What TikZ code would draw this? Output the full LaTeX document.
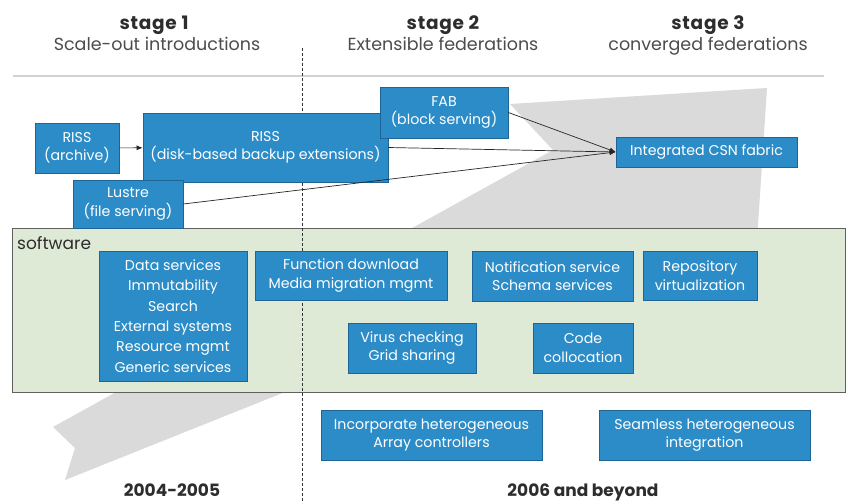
\documentclass[tikz,border=0pt]{standalone}
\usepackage{fontspec}
\setmainfont{Poppins}
\usetikzlibrary{arrows.meta}
\definecolor{hpblue}{RGB}{43,140,200}
\definecolor{hpblueD}{RGB}{30,100,150}
\definecolor{swgreen}{RGB}{222,233,214}
\definecolor{wedgegray}{RGB}{218,218,218}
\definecolor{txtgray}{RGB}{45,45,45}
\begin{document}
\begin{tikzpicture}[x=1pt,y=-1pt,
  bx/.style={rectangle, fill=hpblue, draw=hpblueD, line width=0.7pt, text=white,
    align=center, inner sep=0pt, font=\fontsize{14.2}{18.5}\selectfont},
  conn/.style={draw=black!85, line width=0.7pt},
  tipconn/.style={conn, -{Latex[length=6pt,width=5pt]}},
  stagehd/.style={anchor=base, text=txtgray, font=\fontsize{18.5}{20}\selectfont\bfseries\addfontfeatures{LetterSpace=4}},
  stagesub/.style={anchor=base, text=txtgray!85, font=\fontsize{17.5}{20}\selectfont},
  yearlbl/.style={anchor=base, text=txtgray, font=\fontsize{17}{20}\selectfont\bfseries}
]
\useasboundingbox (0,0) rectangle (848,503);
\fill[white] (0,0) rectangle (848,503);

% gray wedge arrow
\fill[wedgegray] (53,427) -- (553,150) -- (510,104) -- (767,88) -- (757,240)
  -- (420,338) -- (65,480) -- (75,448) -- cycle;

% headers
\node[stagehd] (h1) at (154,30) {stage 1};
\node[stagesub] (t1) at (157,51) {Scale-out introductions};
\node[stagehd] (h2) at (443,30) {stage 2};
\node[stagesub] (t2) at (443,51) {Extensible federations};
\node[stagehd] (h3) at (708,30) {stage 3};
\node[stagesub] (t3) at (708,51) {converged federations};
\coordinate (rl) at (13,76);
\coordinate (rr) at (824,76);
\draw[gray!35, line width=1.3pt] (rl) -- (rr);

% software panel
\node[rectangle, fill=swgreen, draw=gray!75!black, line width=1pt,
  minimum width=833pt, minimum height=164pt, inner sep=0pt] (sw) at (428.5,310) {};
\node[anchor=base west, text=txtgray, font=\fontsize{17}{18}\selectfont, inner sep=0pt]
  (swl) at (17,249) {software};

% dashed divider
\coordinate (dtop) at (302,48);
\coordinate (dbot) at (302,503);
\draw[gray!40!black, line width=0.6pt, dash pattern=on 3pt off 2pt] (dtop) -- (dbot);

% top boxes
\node[bx, minimum width=84pt, minimum height=50pt] (rissa) at (77,148) {RISS\\(archive)};
\node[bx, minimum width=245pt, minimum height=69pt] (rissb) at (265.5,147.5) {RISS\\(disk-based backup extensions)};
\node[bx, minimum width=110pt, minimum height=48pt] (lustre) at (128,204) {Lustre\\(file serving)};
\node[bx, minimum width=128pt, minimum height=51pt] (fab) at (444,112.5) {FAB\\(block serving)};
\node[bx, minimum width=181pt, minimum height=30pt] (csn) at (706.5,152) {Integrated CSN fabric};

% connectors
\draw[tipconn] (rissa) -- (rissb);
\draw[tipconn] (fab.east) -- (csn.west);
\draw[tipconn] (rissb.east) -- (csn.west);
\draw[tipconn] (lustre.east) -- (csn.west);

% software boxes
\node[bx, minimum width=148pt, minimum height=130pt, font=\fontsize{14.2}{20.4}\selectfont] (data) at (173,316)
  {Data services\\Immutability\\Search\\External systems\\Resource mgmt\\Generic services};
\node[bx, minimum width=192pt, minimum height=49pt] (func) at (351,275.5) {Function download\\Media migration mgmt};
\node[bx, minimum width=161pt, minimum height=50pt] (notif) at (552.5,276) {Notification service\\Schema services};
\node[bx, minimum width=114pt, minimum height=49pt] (repo) at (700,275.5) {Repository\\virtualization};
\node[bx, minimum width=128pt, minimum height=50pt] (virus) at (412,348) {Virus checking\\Grid sharing};
\node[bx, minimum width=100pt, minimum height=50pt] (code) at (583,348) {Code\\collocation};

% bottom boxes
\node[bx, minimum width=221pt, minimum height=50pt] (incorp) at (431.5,435) {Incorporate heterogeneous\\Array controllers};
\node[bx, minimum width=211pt, minimum height=50pt] (seam) at (704.5,435) {Seamless heterogeneous\\integration};

% years
\node[yearlbl] (y1) at (172,496) {2004-2005};
\node[yearlbl] (y2) at (583,496) {2006 and beyond};
\end{tikzpicture}
\end{document}
